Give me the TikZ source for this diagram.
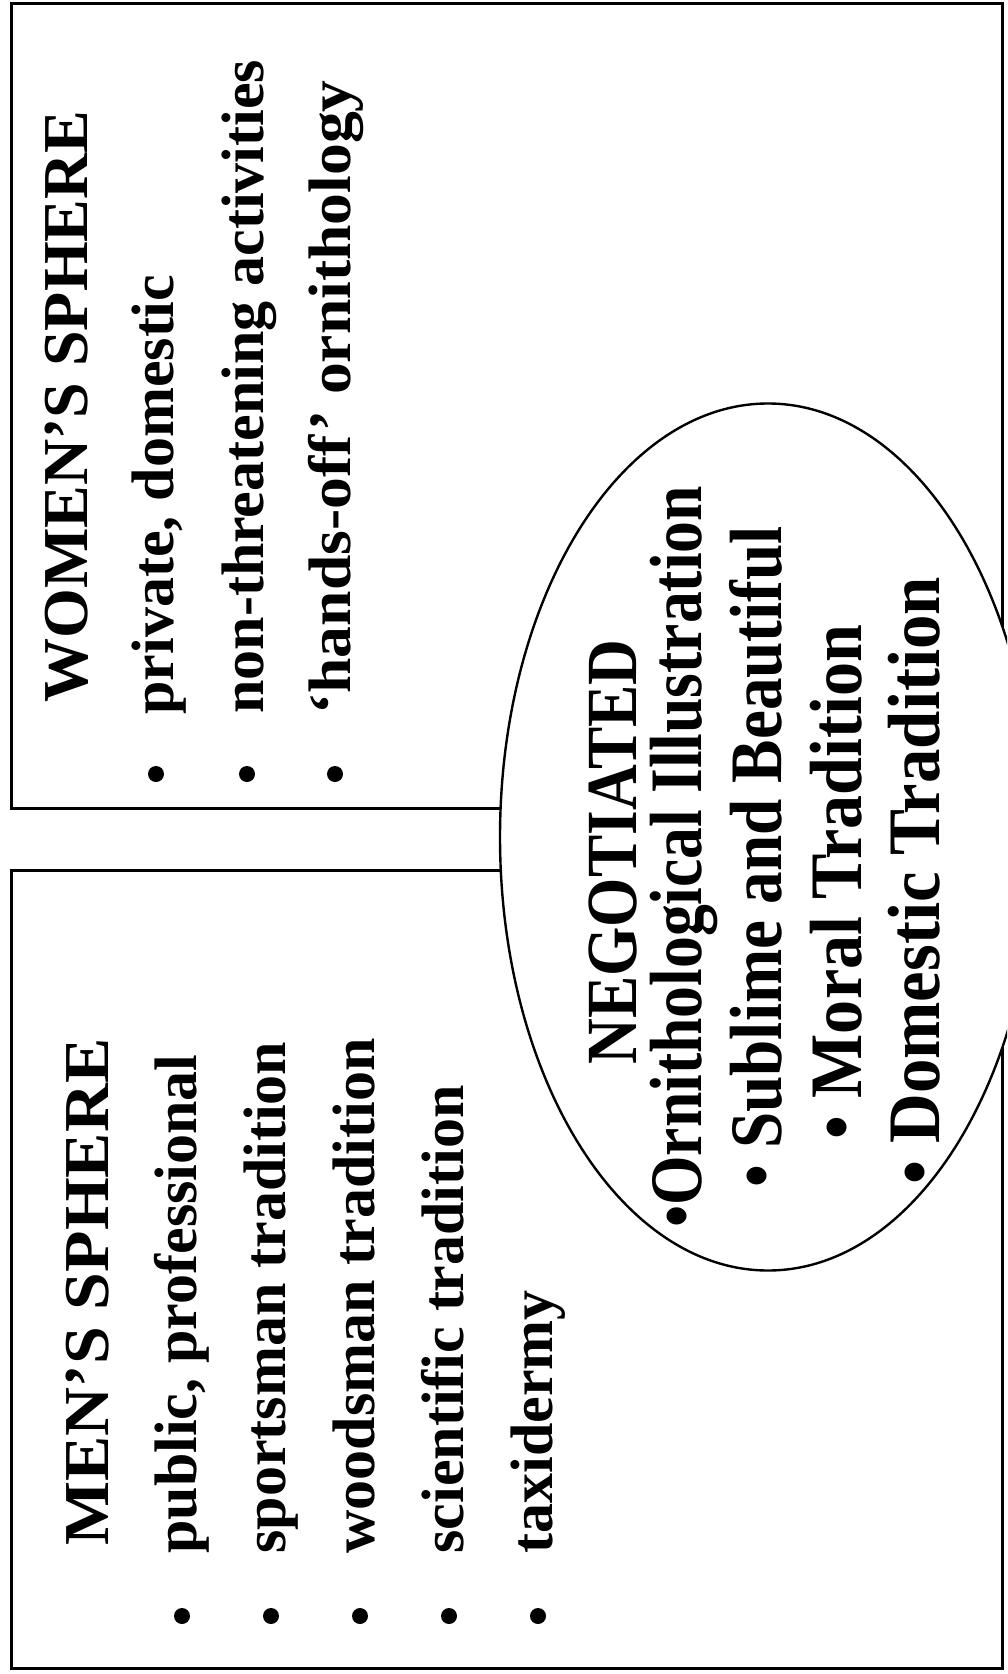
\documentclass[tikz,border=0pt]{standalone}
\usepackage{fontspec}
\setmainfont{Liberation Serif}
\usepackage{tikz}
\usepackage{graphicx}

\newcommand{\squeeze}[2]{\scalebox{#1}[1]{#2}}

\tikzset{
  frame/.style={line width=1.5pt},
  headline/.style={rotate=90, anchor=base west, inner sep=0pt, font=\bfseries\fontsize{32}{38}\selectfont},
  entry/.style={rotate=90, anchor=base west, inner sep=0pt, font=\bfseries\fontsize{30}{36}\selectfont},
  negline/.style={rotate=90, anchor=base, inner sep=0pt, font=\bfseries\fontsize{37}{44}\selectfont},
  dot/.style={circle, fill, inner sep=0pt, minimum size=8pt}
}

\begin{document}
\begin{tikzpicture}[x=0.5pt,y=-0.5pt]
	\useasboundingbox (0,0) rectangle (1007,1674);
	\clip (0,0) rectangle (1007,1674);
	
	%Rahmen
	\draw[frame] (11,4) rectangle (1002,808); %women
	\draw[frame] (11,870) rectangle (1002,1668); %men
	\draw[frame, line width=1.2pt, fill=white] (768,837) ellipse [x radius=268, y radius=433.5]; %negotiated
	
	%Women's sphere
	\node[headline] (wtitle) at (87,703) {WOMEN’S SPHERE};
	\node[entry] (w1) at (173,715) {private, domestic};
	\node[entry] (w2) at (263,714) {non-threatening activities};
	\node[entry] (w3) at (350,715) {\squeeze{1.06}{‘hands-off’ ornithology}};
	\foreach \x [count=\i] in {156,247,335}
		\node[dot] (wd\i) at (\x,774) {};
	
	%Men's sphere
	\node[headline] (mtitle) at (108,1546) {\squeeze{1.06}{MEN’S SPHERE}};
	\node[entry] (m1) at (196,1554) {public, professional};
	\node[entry] (m2) at (285,1554) {sportsman tradition};
	\node[entry] (m3) at (374,1554) {woodsman tradition};
	\node[entry] (m4) at (463,1554) {scientific tradition};
	\node[entry] (m5) at (552,1554) {taxidermy};
	\foreach \x [count=\i] in {182,271,360,449,538}
		\node[dot] (md\i) at (\x,1616) {};
	
	%Negotiated
	\node[negline, font=\bfseries\fontsize{36}{42}\selectfont] (ntitle) at (636,852) {\squeeze{0.88}{NEGOTIATED}};
	\node[negline] (n1) at (701,857) {\squeeze{0.86}{•Ornithological Illustration}};
	\node[negline] (n2) at (781,857) {\squeeze{0.88}{• Sublime and Beautiful}};
	\node[negline] (n3) at (861,882) {\squeeze{0.92}{• Moral Tradition}};
	\node[negline] (n4) at (939,881) {\squeeze{0.93}{• Domestic Tradition}};
	
\end{tikzpicture}
\end{document}
